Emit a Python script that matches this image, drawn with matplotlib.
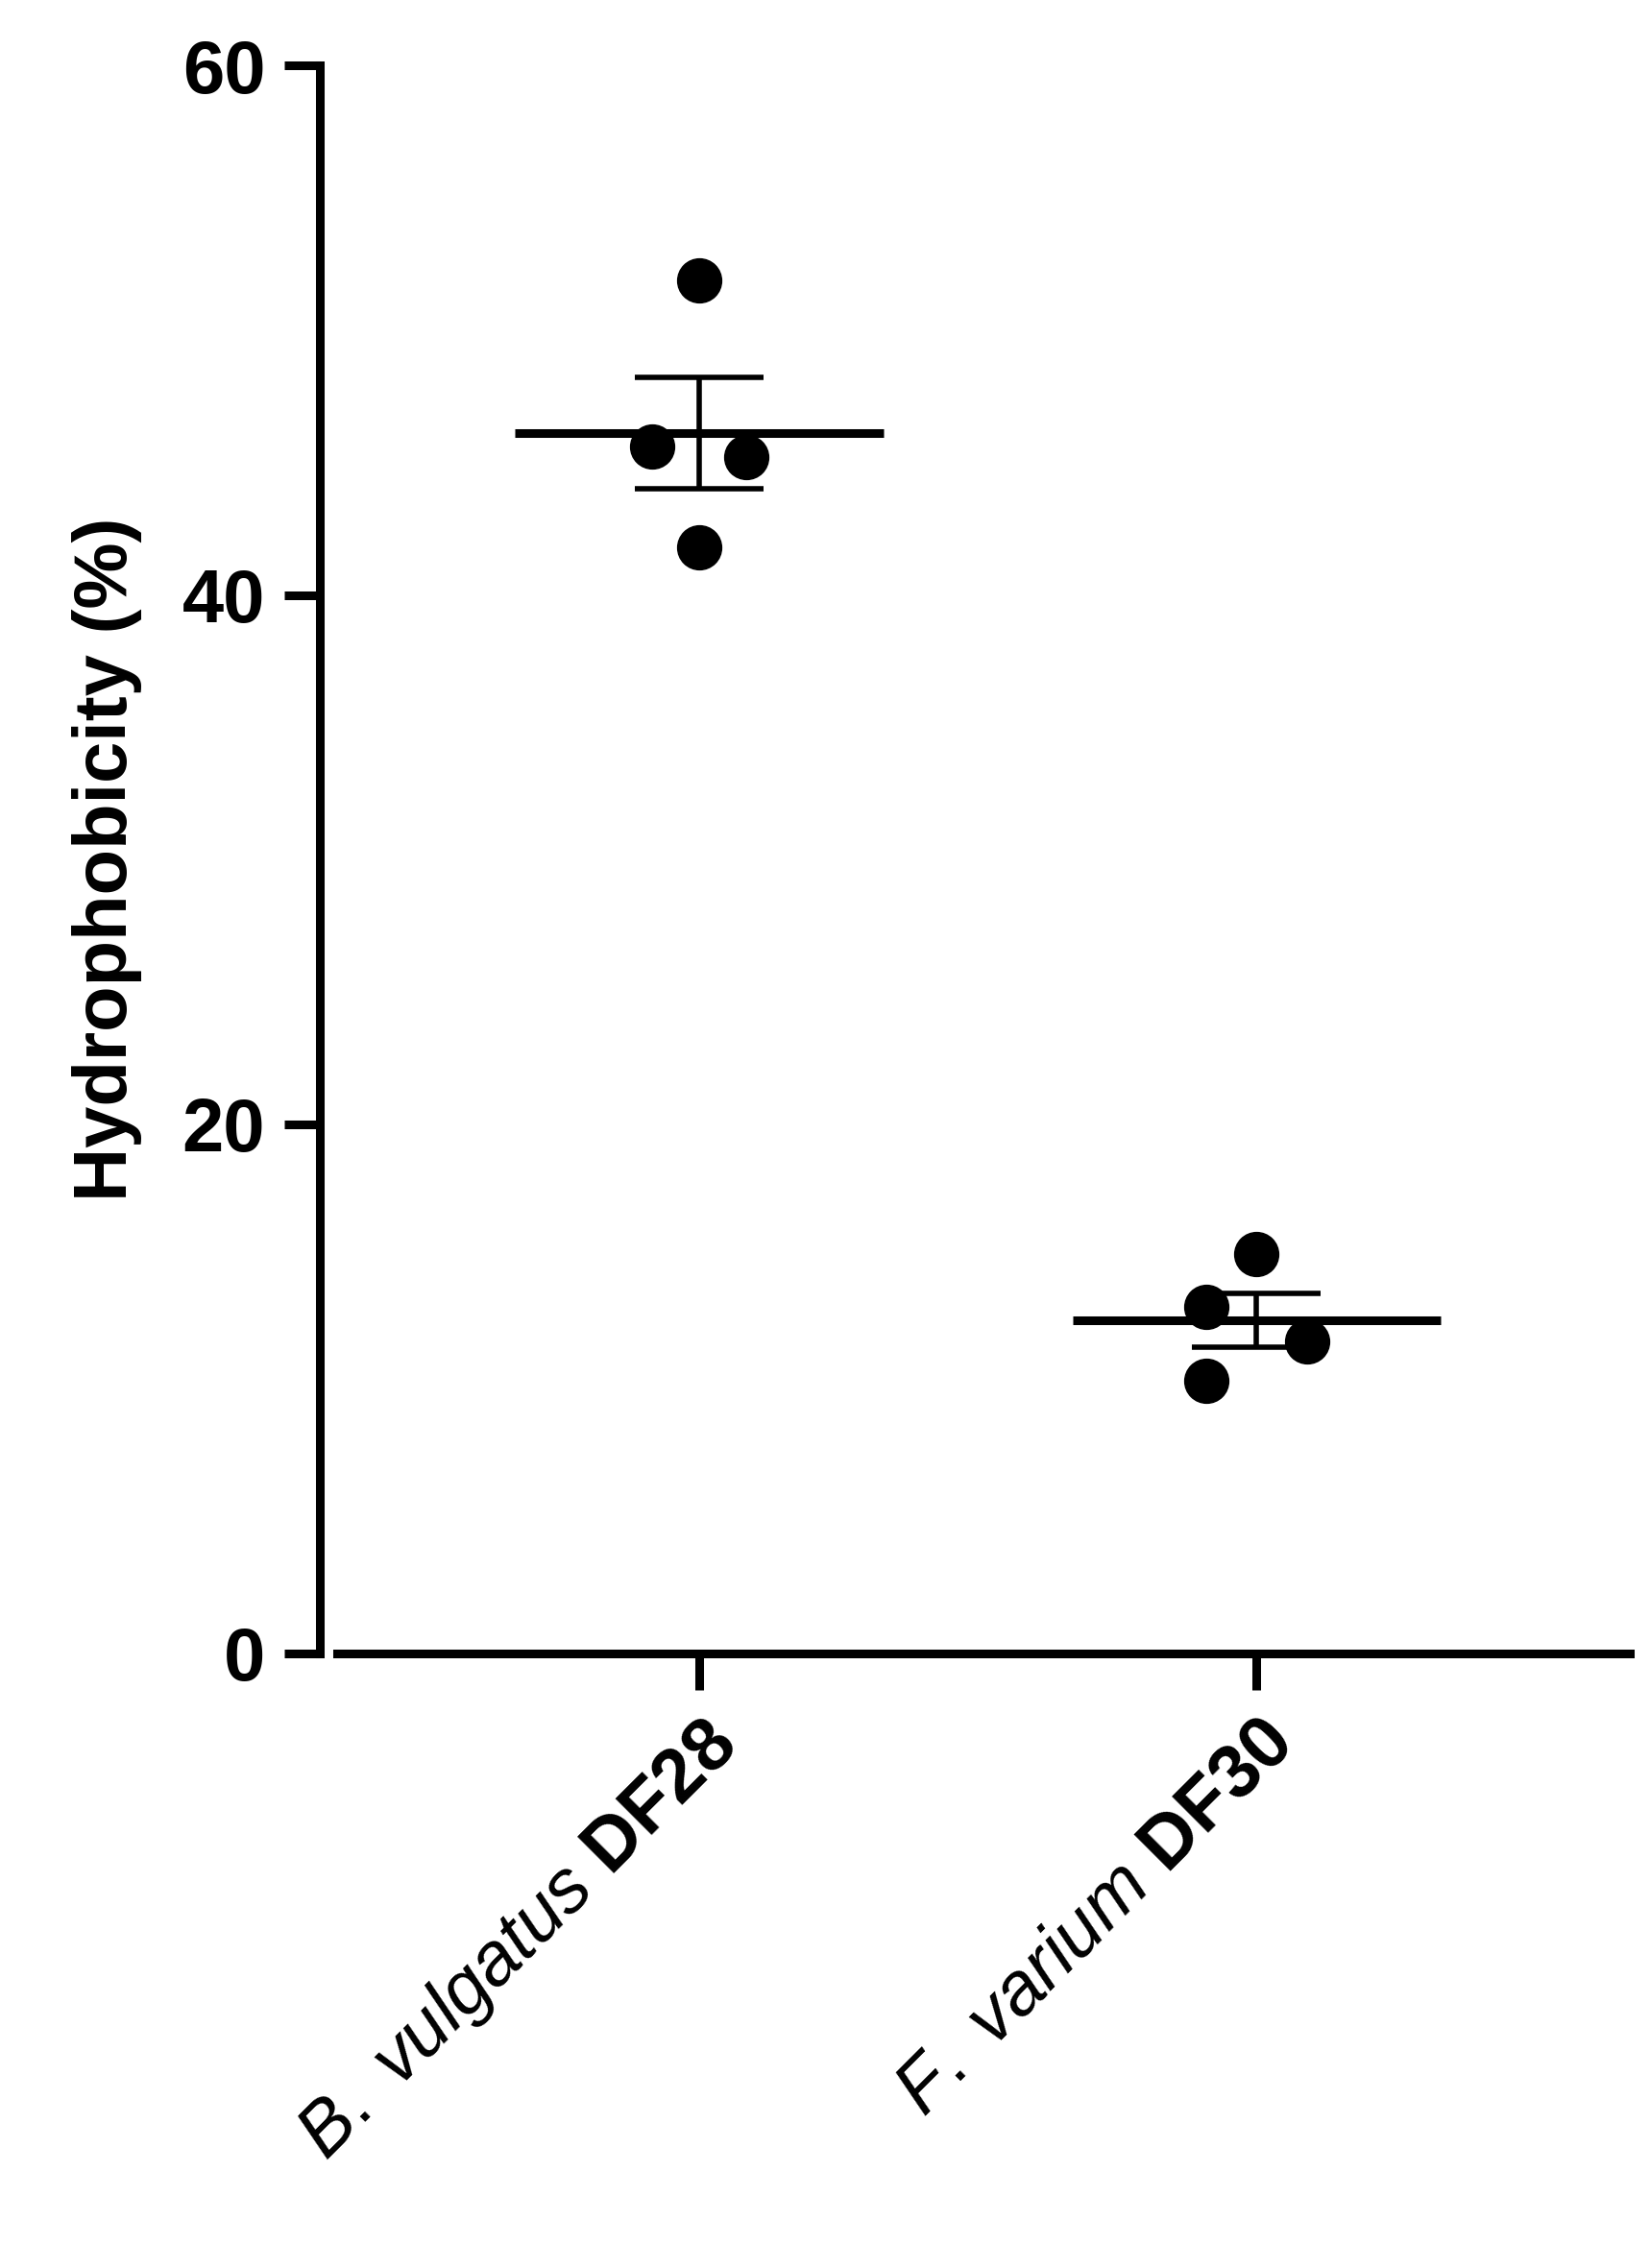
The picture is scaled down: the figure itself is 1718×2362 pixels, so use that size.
import numpy as np
import matplotlib.pyplot as plt

plt.rcParams['font.family'] = ['Liberation Sans', 'DejaVu Sans']
plt.rcParams['mathtext.fontset'] = 'custom'
plt.rcParams['mathtext.it'] = 'Liberation Sans:italic'
plt.rcParams['mathtext.rm'] = 'Liberation Sans'

groups = [r'$\it{B.\ vulgatus}$ DF28', r'$\it{F.\ varium}$ DF30']
values = [[51.9, 45.6, 45.2, 41.8], [15.1, 13.1, 11.8, 10.3]]
offsets = [0.0, -0.085, 0.085, 0.0]
offsets2 = [0.0, -0.09, 0.09, -0.09]

fig = plt.figure(figsize=(17.18, 23.62), dpi=100)
ax = fig.add_axes([0.194, 0.271, 0.794, 0.70])
lw = 6.5

for i, vals in enumerate(values):
    vals = np.array(vals)
    offs = offsets if i == 0 else offsets2
    ax.plot(i + np.array(offs), vals, 'o', color='black', markersize=33, zorder=3)
    m = vals.mean()
    sem = vals.std(ddof=1) / np.sqrt(len(vals))
    ax.hlines(m, i - 0.33, i + 0.33, color='black', lw=lw)
    ax.errorbar(i, m, yerr=sem, color='black', capsize=48, capthick=4, elinewidth=4, fmt='none')

ax.set_xlim(-0.68, 1.67)
ax.set_ylim(0, 60)
ax.set_yticks([0, 20, 40, 60])
ax.set_xticks([0, 1])
ax.set_xticklabels(groups, rotation=45, ha='right', va='top', rotation_mode='anchor')
for s in ['top', 'right']:
    ax.spines[s].set_visible(False)
for s in ['left', 'bottom']:
    ax.spines[s].set_linewidth(lw)
ax.spines['bottom'].set_bounds(-0.65, 1.67)
ax.tick_params(width=lw, length=27, labelsize=56, pad=14)
for t in ax.get_xticklabels() + ax.get_yticklabels():
    t.set_fontweight('bold')
ax.set_ylabel('Hydrophobicity (%)', fontsize=56, fontweight='bold', labelpad=30)
fig.savefig('out.png', dpi=100)
